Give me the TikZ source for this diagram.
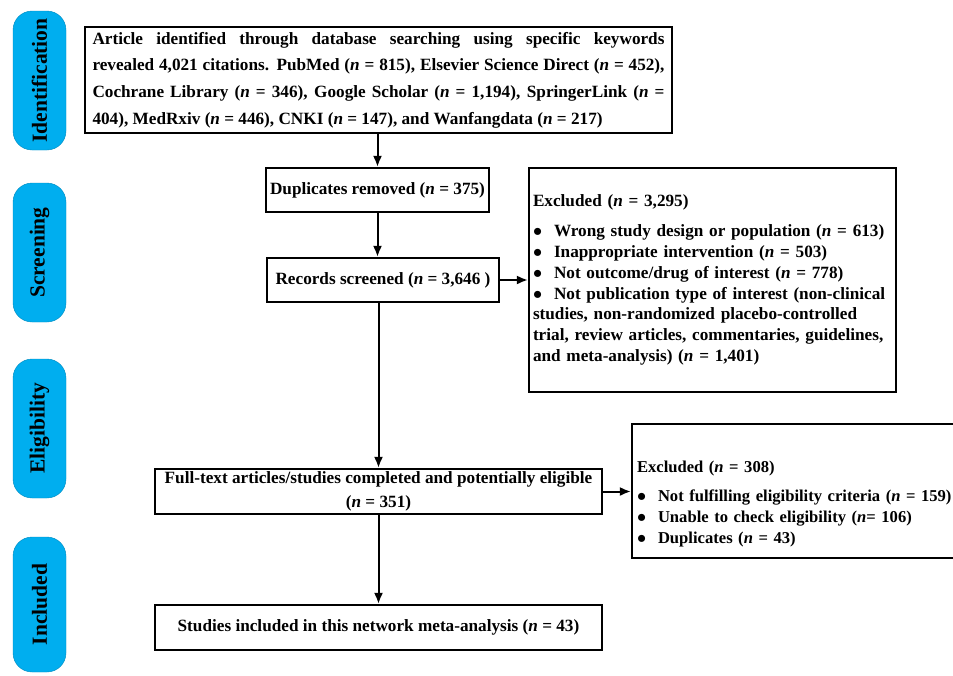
\documentclass[tikz,border=0pt]{standalone}
\usepackage{fontspec}
\setmainfont{Liberation Serif}
\usepackage{tikz}
\usetikzlibrary{arrows.meta}
\definecolor{stageblue}{RGB}{0,174,239}
\newcommand{\bitem}{\makebox[21pt][l]{\smash{\raisebox{-4pt}{\fontsize{26}{0}\selectfont\textbullet}}}}

\begin{document}
\begin{tikzpicture}[x=1pt,y=-1pt,
  stage/.style={draw=stageblue!80!black, line width=0.4pt, fill=stageblue,
    rounded corners=19pt, minimum width=139pt, minimum height=53pt,
    rotate=90, inner sep=0pt, font=\bfseries\fontsize{21.5}{21.5}\selectfont},
  box/.style={draw, line width=2.2pt, inner sep=2pt,
    font=\bfseries\fontsize{17.2}{26.6}\selectfont},
  arr/.style={line width=2pt, -{Latex[length=11pt,width=9pt]}}]

\useasboundingbox (0,0) rectangle (953,675);

% Stages
\node[stage] (ident) at (39.5,80.5) {Identification};
\node[stage] (screen) at (39.5,252.5) {Screening};
\node[stage] (elig) at (39.5,428.5) {Eligibility};
\node[stage, minimum width=135pt] (incl) at (39.5,604.5) {Included};

% Main boxes
\node[box, minimum width=587pt, minimum height=106pt, text width=572pt,
  align=justify, inner xsep=7.5pt] (search) at (378.5,80)
  {Article identified through database searching using specific keywords\linebreak
   revealed 4,021 citations. PubMed (\textit{n} = 815), Elsevier Science Direct (\textit{n} = 452),\linebreak
   Cochrane Library (\textit{n} = 346), Google Scholar (\textit{n} = 1,194), SpringerLink (\textit{n} =\linebreak
   404), MedRxiv (\textit{n} = 446), CNKI (\textit{n} = 147), and Wanfangdata (\textit{n} = 217)};
\node[box, minimum width=223pt, minimum height=44pt] (dup) at (377.5,190)
  {Duplicates removed (\textit{n} = 375)};
\node[box, minimum width=232pt, minimum height=44pt] (screened) at (383,280)
  {Records screened (\textit{n} = 3,646 )};
\node[box, minimum width=447pt, minimum height=45pt, align=center,
  font=\bfseries\fontsize{17.2}{24}\selectfont] (fulltext) at (378.5,491.5)
  {Full-text articles/studies completed and potentially eligible\\(\textit{n} = 351)};
\node[box, minimum width=447pt, minimum height=45pt] (included) at (378.5,627.5)
  {Studies included in this network meta-analysis (\textit{n} = 43)};

% Exclusion boxes
\node[box, minimum width=367pt, minimum height=224pt, text width=359pt,
  align=left, inner xsep=4pt, font=\bfseries\fontsize{17.2}{20.8}\selectfont]
  (excl1) at (712.5,280)
  {Excluded (\textit{n} = 3,295)\\[9.2pt]
   \bitem Wrong study design or population (\textit{n} = 613)\\
   \bitem Inappropriate intervention (\textit{n} = 503)\\
   \bitem Not outcome/drug of interest (\textit{n} = 778)\\
   \bitem Not publication type of interest (non-clinical\\
   studies, non-randomized placebo-controlled\\
   trial, review articles, commentaries, guidelines,\\
   and meta-analysis) (\textit{n} = 1,401)};
\node[box, minimum width=350pt, minimum height=134pt, text width=340pt,
  align=left, inner xsep=5pt, font=\bfseries\fontsize{16.6}{21}\selectfont]
  (excl2) at (807,491)
  {\rule{0pt}{38pt}Excluded (\textit{n} = 308)\\[8pt]
   \bitem Not fulfilling eligibility criteria (\textit{n} = 159)\\
   \bitem Unable to check eligibility (\textit{n}= 106)\\
   \bitem Duplicates (\textit{n} = 43)};

% Arrows
\draw[arr] (dup.north |- search.south) -- (dup.north);
\draw[arr] (dup.south) -- (dup.south |- screened.north);
\draw[arr] (screened.east) -- (excl1.west |- screened.east);
\draw[arr] (fulltext.north |- screened.south) -- (fulltext.north);
\draw[arr] (fulltext.east) -- (excl2.west |- fulltext.east);
\draw[arr] (fulltext.south) -- (included.north);

\end{tikzpicture}
\end{document}
